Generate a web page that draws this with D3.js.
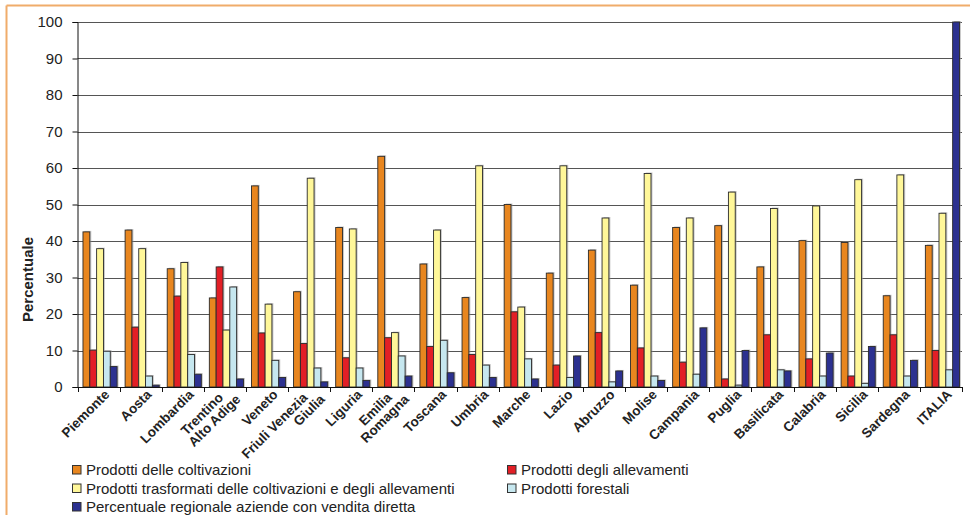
<!DOCTYPE html>
<html>
<head>
<meta charset="utf-8">
<script src="https://cdn.jsdelivr.net/npm/d3@7"></script>
<style>
  html, body { margin: 0; padding: 0; background: #fff; }
  svg { display: block; }
  text { font-family: "Liberation Sans Narrow", "Arial Narrow", "Liberation Sans", Arial, sans-serif; fill: #222; }
</style>
</head>
<body>
<svg id="chart" width="970" height="515"></svg>
<script>
// Regions (labels may contain a line break)
const regions = [
  "Piemonte", "Aosta", "Lombardia", "Trentino\nAlto Adige", "Veneto",
  "Friuli Venezia\nGiulia", "Liguria", "Emilia\nRomagna", "Toscana", "Umbria",
  "Marche", "Lazio", "Abruzzo", "Molise", "Campania", "Puglia",
  "Basilicata", "Calabria", "Sicilia", "Sardegna", "ITALIA"
];

const seriesNames = [
  "Prodotti delle coltivazioni",
  "Prodotti degli allevamenti",
  "Prodotti trasformati delle coltivazioni e degli allevamenti",
  "Prodotti forestali",
  "Percentuale regionale aziende con vendita diretta"
];

const seriesColors = ["#E8861F", "#E21F26", "#FFF799", "#C6E7EF", "#2C3190"];

// Percent values per region, one array per series
const coltivazioni = [42.5, 43.0, 32.4, 24.4, 55.1, 26.1, 43.7, 63.2, 33.7, 24.5, 50.0, 31.2, 37.5, 27.9, 43.7, 44.2, 32.9, 40.1, 39.6, 25.0, 38.8];
const allevamenti  = [10.1, 16.4, 24.9, 32.9, 14.8, 11.9, 8.0, 13.5, 11.1, 8.9, 20.6, 6.0, 14.9, 10.7, 6.8, 2.2, 14.3, 7.7, 3.0, 14.3, 10.0];
const trasformati  = [37.9, 37.9, 34.1, 15.6, 22.7, 57.2, 43.3, 14.9, 43.0, 60.6, 21.9, 60.6, 46.3, 58.5, 46.3, 53.4, 48.9, 49.6, 56.8, 58.1, 47.6];
const forestali    = [9.8, 3.0, 8.9, 27.4, 7.3, 5.2, 5.2, 8.5, 12.8, 6.0, 7.7, 2.6, 1.4, 3.0, 3.5, 0.5, 4.7, 3.0, 1.0, 3.0, 4.7];
const venditaDiretta = [5.6, 0.5, 3.5, 2.2, 2.6, 1.4, 1.8, 3.0, 3.9, 2.6, 2.2, 8.5, 4.4, 1.8, 16.2, 10.0, 4.4, 9.3, 11.1, 7.3, 100];

const yTicks = [0, 10, 20, 30, 40, 50, 60, 70, 80, 90, 100];

const seriesValues = [coltivazioni, allevamenti, trasformati, forestali, venditaDiretta];

const svg = d3.select("#chart");
const W = 970, H = 515;

// outer frame: orange top and left rules
svg.append("line").attr("x1", 6.5).attr("x2", W).attr("y1", 5.5).attr("y2", 5.5)
  .attr("stroke", "#F0AC6A").attr("stroke-width", 2);
svg.append("line").attr("x1", 6.5).attr("x2", 6.5).attr("y1", 5.5).attr("y2", H)
  .attr("stroke", "#F0AC6A").attr("stroke-width", 2);

const plot = { left: 77.5, right: 962, top: 22, bottom: 387 };

const x = d3.scaleBand().domain(regions).range([plot.left, plot.right]).paddingInner(0).paddingOuter(0);
const xs = d3.scaleBand().domain(d3.range(seriesNames.length))
  .range([x.bandwidth() * 0.13, x.bandwidth() * 0.94]).paddingInner(0);
const y = d3.scaleLinear().domain([0, 100]).range([plot.bottom, plot.top]);

// gridlines
svg.append("g")
  .selectAll("line").data(yTicks.filter(d => d > 0)).join("line")
  .attr("x1", plot.left).attr("x2", plot.right)
  .attr("y1", d => Math.round(y(d)) + 0.5).attr("y2", d => Math.round(y(d)) + 0.5)
  .attr("stroke", "#555").attr("stroke-width", 1);

// bars
const groups = svg.append("g").selectAll("g").data(regions).join("g")
  .attr("transform", d => `translate(${x(d)},0)`);

groups.each(function (region, ri) {
  const g = d3.select(this);
  seriesValues.forEach((vals, si) => {
    const v = vals[ri];
    const bx = xs(si), bw = xs.bandwidth();
    // soft drop shadow
    g.append("rect")
      .attr("x", bx + 1.5).attr("y", y(v) - 1)
      .attr("width", bw).attr("height", Math.max(0, plot.bottom - y(v) + 1))
      .attr("fill", "#9a9a9a").attr("opacity", 0.55);
    g.append("rect")
      .attr("x", bx).attr("y", y(v))
      .attr("width", bw).attr("height", plot.bottom - y(v))
      .attr("fill", seriesColors[si])
      .attr("stroke", "#2a2a2a").attr("stroke-width", 0.9);
  });
});

// y axis
const yAxis = svg.append("g").attr("transform", `translate(${plot.left},0)`)
  .call(d3.axisLeft(y).tickValues(yTicks).tickSize(5).tickPadding(10).tickFormat(d3.format("d")));
yAxis.select(".domain").attr("stroke", "#111");
yAxis.selectAll(".tick line").attr("stroke", "#111");
yAxis.selectAll("text").attr("font-size", 15).attr("fill", "#222")
  .style("font-family", '"Liberation Sans Narrow", "Arial Narrow", sans-serif');

// x axis with ticks at category boundaries
svg.append("line").attr("x1", plot.left).attr("x2", plot.right)
  .attr("y1", plot.bottom + 0.5).attr("y2", plot.bottom + 0.5).attr("stroke", "#111");
svg.append("g").selectAll("line").data(regions.concat([null])).join("line")
  .attr("x1", (d, i) => Math.round(plot.left + i * x.step()) + 0.5)
  .attr("x2", (d, i) => Math.round(plot.left + i * x.step()) + 0.5)
  .attr("y1", plot.bottom).attr("y2", plot.bottom + 5).attr("stroke", "#111");

// rotated category labels; wrapped lines step down and along the slant
const labelSize = 13.5, lineH = 13.5, lineStep = 11;
const labels = svg.append("g").selectAll("g").data(regions).join("g")
  .attr("transform", d => `translate(${x(d) + x.bandwidth() / 2},${plot.bottom + 1}) rotate(-45)`);
labels.each(function (d) {
  const g = d3.select(this);
  const lines = d.split("\n");
  const n = lines.length;
  lines.forEach((ln, i) => {
    g.append("text")
      .attr("font-size", labelSize).attr("font-weight", "bold")
      .attr("fill", "#222")
      .attr("text-anchor", "end")
      .attr("x", 3 - (n - 1 - i) * lineStep)
      .attr("y", 13.5 + (i - (n - 1) / 2) * lineH)
      .text(ln);
  });
});

// y axis title
svg.append("text")
  .attr("transform", `translate(33,${(plot.top + plot.bottom) / 2 + 75}) rotate(-90)`)
  .attr("text-anchor", "middle")
  .attr("font-size", 15).attr("font-weight", "bold")
  .text("Percentuale");

// legend: two columns
const legendPos = [
  { x: 72, y: 465 }, { x: 507, y: 465 },
  { x: 72, y: 483.5 }, { x: 507, y: 483.5 },
  { x: 72, y: 502 }
];
const legend = svg.append("g").selectAll("g").data(seriesNames).join("g")
  .attr("transform", (d, i) => `translate(${legendPos[i].x},${legendPos[i].y})`);
legend.append("rect").attr("x", 0.5).attr("y", 0.5).attr("width", 8.5).attr("height", 8.5)
  .attr("fill", (d, i) => seriesColors[i]).attr("stroke", "#333").attr("stroke-width", 1);
legend.append("text").attr("x", 14).attr("y", 10)
  .attr("font-size", 15).attr("fill", "#222").text(d => d);
</script>
</body>
</html>
